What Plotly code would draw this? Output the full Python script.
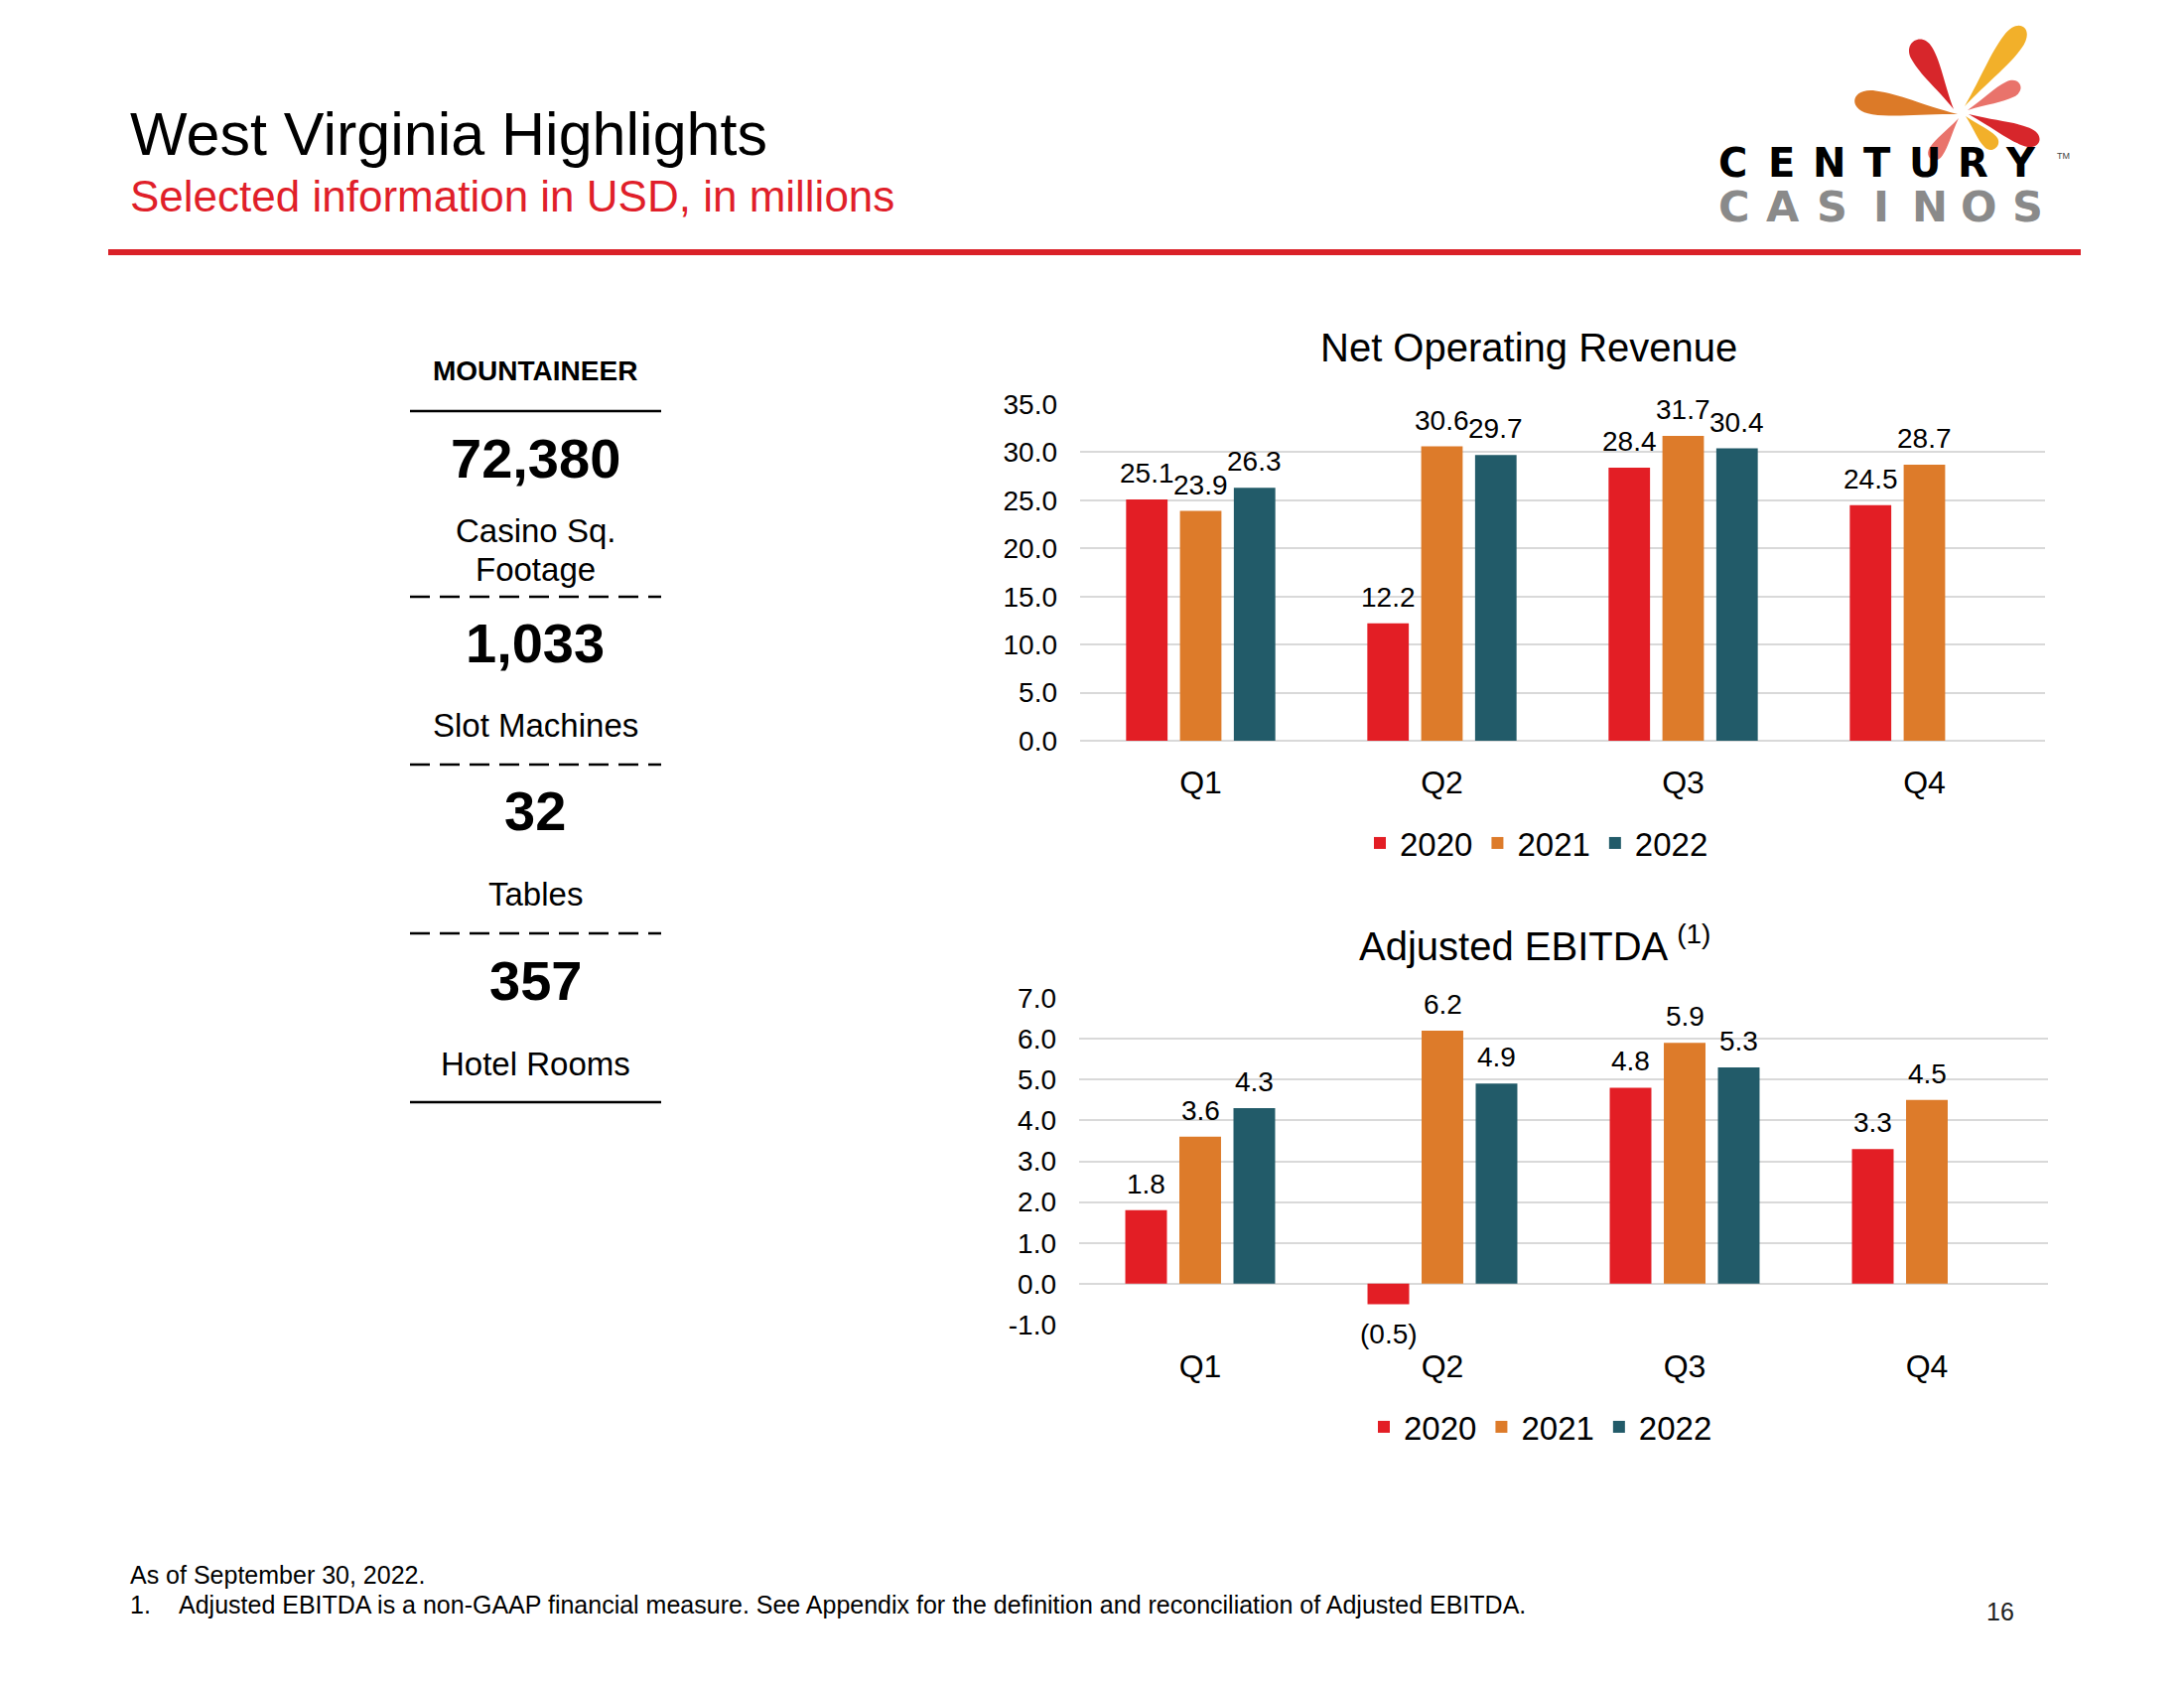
import plotly.graph_objects as go
import math

# ---------------- data ----------------
quarters = ["Q1", "Q2", "Q3", "Q4"]
years = ["2020", "2021", "2022"]
revenue_2020 = [25.1, 12.2, 28.4, 24.5]
revenue_2021 = [23.9, 30.6, 31.7, 28.7]
revenue_2022 = [26.3, 29.7, 30.4, None]
ebitda_2020 = [1.8, -0.5, 4.8, 3.3]
ebitda_2021 = [3.6, 6.2, 5.9, 4.5]
ebitda_2022 = [4.3, 4.9, 5.3, None]
revenue_ticks = [0, 5, 10, 15, 20, 25, 30, 35]
revenue_ticktext = ["0.0", "5.0", "10.0", "15.0", "20.0", "25.0", "30.0", "35.0"]
ebitda_ticks = [-1, 0, 1, 2, 3, 4, 5, 6, 7]
ebitda_ticktext = ["-1.0", "0.0", "1.0", "2.0", "3.0", "4.0", "5.0", "6.0", "7.0"]
stat_values = ["72,380", "1,033", "32", "357"]
stat_labels = [["Casino Sq.", "Footage"], ["Slot Machines"], ["Tables"], ["Hotel Rooms"]]

colors = ["#E31E25", "#DD7B2A", "#225B69"]
FONT = "Arial, Liberation Sans, sans-serif"
W, H = 2200, 1700
BARGAP = 0.33
BARGROUPGAP = 0.23


def px(x):
    return x / W


def py(y):
    return 1 - y / H


def fmt(v):
    if v is None:
        return ""
    return "(%.1f)" % abs(v) if v < 0 else "%.1f" % v


# plot areas (pixel bounds)
c1 = dict(x0=1088, x1=2060, ytop=407, ybot=746)
c2 = dict(x0=1087, x1=2063, ytop=1005, ybot=1334)

fig = go.Figure()
ann = []
shapes = []

for chart, series, xa, ya, leg in [
        (c1, [revenue_2020, revenue_2021, revenue_2022], "x", "y", "legend"),
        (c2, [ebitda_2020, ebitda_2021, ebitda_2022], "x2", "y2", "legend2")]:
    slot = (chart["x1"] - chart["x0"]) / len(quarters) * (1 - BARGAP) / len(years)
    for i, (yr, vals, col) in enumerate(zip(years, series, colors)):
        fig.add_trace(go.Bar(
            x=quarters, y=vals, name=yr, marker=dict(color=col, line=dict(width=0)),
            xaxis=xa, yaxis=ya, legend=leg, hoverinfo="skip"))
        for q, v in zip(quarters, vals):
            if v is None:
                continue
            ann.append(dict(x=q, y=v, xref=xa, yref=ya, text=fmt(v), showarrow=False,
                            xanchor="center", yanchor="bottom" if v >= 0 else "top",
                            xshift=(i - 1) * slot, yshift=9 if v >= 0 else -13,
                            font=dict(size=28, color="#000000", family=FONT)))

grid = "#D9D9D9"
common_x = dict(showgrid=False, showline=False, zeroline=False, ticks="",
                tickfont=dict(size=32, color="#000000", family=FONT),
                ticklabelstandoff=20, fixedrange=True, automargin=False)
common_y = dict(showgrid=True, gridcolor=grid, gridwidth=2, zeroline=True,
                zerolinecolor=grid, zerolinewidth=2, showline=False, ticks="",
                tickfont=dict(size=28, color="#000000", family=FONT),
                ticklabelstandoff=22, fixedrange=True, automargin=False)

fig.update_layout(
    width=W, height=H,
    margin=dict(l=0, r=0, t=0, b=0, autoexpand=False),
    paper_bgcolor="#FFFFFF", plot_bgcolor="#FFFFFF",
    font=dict(family=FONT, color="#000000"),
    barmode="group", bargap=BARGAP, bargroupgap=BARGROUPGAP,
    xaxis=dict(domain=[px(c1["x0"]), px(c1["x1"])], anchor="y", **common_x),
    yaxis=dict(domain=[py(c1["ybot"]), py(c1["ytop"])], range=[0, 35], anchor="x",
               tickvals=revenue_ticks, ticktext=revenue_ticktext, **common_y),
    xaxis2=dict(domain=[px(c2["x0"]), px(c2["x1"])], anchor="y2", **common_x),
    yaxis2=dict(domain=[py(c2["ybot"]), py(c2["ytop"])], range=[-1, 7], anchor="x2",
                tickvals=ebitda_ticks, ticktext=ebitda_ticktext, **common_y),
    legend=dict(orientation="h", x=px(1548), y=py(849), xanchor="center", yanchor="middle",
                font=dict(size=33, color="#000000", family=FONT), itemwidth=30,
                bgcolor="rgba(0,0,0,0)"),
    legend2=dict(orientation="h", x=px(1552), y=py(1437), xanchor="center", yanchor="middle",
                 font=dict(size=33, color="#000000", family=FONT), itemwidth=30,
                 bgcolor="rgba(0,0,0,0)"),
    showlegend=True,
)


def text(x, y, s, size, color="#000000", xanchor="center", bold=False, family=FONT):
    ann.append(dict(x=px(x), y=py(y), xref="paper", yref="paper", text=("<b>%s</b>" % s) if bold else s,
                    showarrow=False, xanchor=xanchor, yanchor="middle",
                    font=dict(size=size, color=color, family=family)))


# header
text(129, 135, "West Virginia Highlights", 61, xanchor="left")
text(129, 198, "Selected information in USD, in millions", 44, color="#E01F2A", xanchor="left")
shapes.append(dict(type="line", xref="paper", yref="paper", x0=px(109), x1=px(2096),
                   y0=py(254), y1=py(254), line=dict(color="#DA2128", width=6)))

# chart titles
text(1540, 350, "Net Operating Revenue", 40)
text(1546, 950, "Adjusted EBITDA <sup>(1)</sup>", 40)

# left stats panel
cx = 539
text(cx, 374, "MOUNTAINEER", 28, bold=True)
value_y = [461, 648, 816, 987]
label_y = [[534, 573], [731], [900], [1071]]
line_y = [414, 601, 770, 940, 1110]
for v, yv in zip(stat_values, value_y):
    text(cx, yv, v, 56, bold=True)
for labs, ys in zip(stat_labels, label_y):
    for lab, yl in zip(labs, ys):
        text(cx, yl, lab, 33)
for i, yl in enumerate(line_y):
    solid = i in (0, len(line_y) - 1)
    shapes.append(dict(type="line", xref="paper", yref="paper", x0=px(413), x1=px(666),
                       y0=py(yl), y1=py(yl),
                       line=dict(color="#000000", width=2.5, dash="solid" if solid else "20px,10px")))

# footnotes
text(129, 1586, "As of September 30, 2022.", 25, xanchor="left")
text(129, 1616, "1.", 25, xanchor="left")
text(178, 1616, "Adjusted EBITDA is a non-GAAP financial measure. See Appendix for the definition and reconciliation of Adjusted EBITDA.", 25, xanchor="left")
text(2015, 1623, "16", 25, color="#222222")


# logo petals
def petal(c, t, w, color):
    cxp, cyp = c
    tx, ty = t
    dx, dy = tx - cxp, ty - cyp
    L = math.hypot(dx, dy)
    ux, uy = dx / L, dy / L
    nx, ny = -uy, ux

    def P(a, b):
        X = cxp + a * dx + b * nx
        Y = cyp + a * dy + b * ny
        return "%.5f,%.5f" % (px(X), py(Y))
    path = ("M %s C %s %s %s C %s %s %s C %s %s %s Z" % (
        P(0, 0), P(0.35, 0.2 * w), P(0.55, 0.5 * w), P(0.78, 0.5 * w),
        P(1.02, 0.5 * w), P(1.02, -0.5 * w), P(0.78, -0.5 * w),
        P(0.55, -0.5 * w), P(0.35, -0.2 * w), P(0, 0)))
    shapes.append(dict(type="path", xref="paper", yref="paper", path=path,
                       fillcolor=color, line=dict(width=0)))


petal((1968, 110), (1927, 38), 24, "#D7262B")
petal((1979, 107), (2041, 24), 22, "#F2B02A")
petal((1972, 115), (1864, 100), 24, "#DC7A28")
petal((1982, 111), (2037, 84), 17, "#E9736B")
petal((1983, 115), (2057, 144), 19, "#D7262B")
petal((1980, 117), (2012, 150), 16, "#F2B02A")
petal((1973, 119), (1944, 162), 15, "#E9736B")

logo_font = "DejaVu Sans, Arial, sans-serif"
for i, ch in enumerate("CENTURY"):
    text(1746 + 48.2 * i, 164, ch, 40, bold=True, family=logo_font)
for i, ch in enumerate("CASINOS"):
    text(1747 + 49.3 * i, 208, ch, 43, color="#8A8A8A", bold=True, family=logo_font)
text(2078, 157, "TM", 9, color="#444444")

fig.update_layout(annotations=ann, shapes=shapes)

fig.write_html("out.html")
